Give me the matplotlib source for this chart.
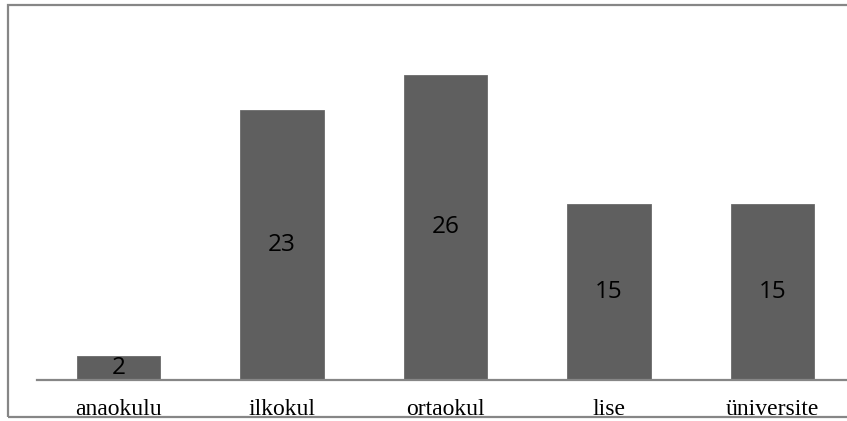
import matplotlib.pyplot as plt
from matplotlib.patches import Rectangle

categories = ['anaokulu', 'ilkokul', 'ortaokul', 'lise', 'üniversite']
values = [2, 23, 26, 15, 15]

fig = plt.figure(figsize=(8.47, 4.21), dpi=100)
W, H = 847, 421

# outer chart border (cropped on the right in the reference)
fig.patches.append(Rectangle((8/W, 4.5/H), 1.2, (416-4.5)/H, transform=fig.transFigure,
                             fill=False, ec='#868686', lw=1.6, clip_on=False))

ax = fig.add_axes([36.75/W, 41.5/H, (854-36.75)/W, 351/H])
x = range(len(categories))
bars = ax.bar(x, values, width=0.51, color='#5f5f5f', ec='#6a6a6a', lw=0.6)
ax.set_xlim(-0.5, 4.5)
ax.set_ylim(0, 30)

for b, v in zip(bars, values):
    ax.text(b.get_x() + b.get_width()/2, v/2, str(v), ha='center', va='center',
            fontsize=17.5, family='Open Sans', color='black')

for s in ['top', 'right', 'left']:
    ax.spines[s].set_visible(False)
ax.spines['bottom'].set_color('#868686')
ax.spines['bottom'].set_linewidth(1.6)
ax.set_yticks([])
ax.set_xticks(list(x))
ax.set_xticklabels(categories, family='Liberation Serif', fontsize=17)
ax.tick_params(axis='x', length=0, pad=14)

fig.savefig('out.png', dpi=100)
